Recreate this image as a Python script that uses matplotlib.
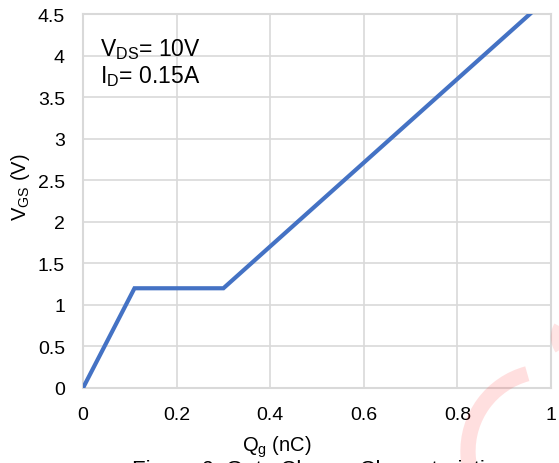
import matplotlib
matplotlib.use('Agg')
import matplotlib.pyplot as plt
from matplotlib.patches import Arc

plt.rcParams['font.family'] = ['Liberation Sans', 'DejaVu Sans']
plt.rcParams['mathtext.fontset'] = 'custom'
plt.rcParams['mathtext.rm'] = 'Liberation Sans'
plt.rcParams['mathtext.it'] = 'Liberation Sans'

# Gate charge data
qg = [0.0, 0.11, 0.30, 0.955]
vgs = [0.0, 1.2, 1.2, 4.5]
x_ticks = [0, 0.2, 0.4, 0.6, 0.8, 1]
x_labels = ['0', '0.2', '0.4', '0.6', '0.8', '1']
y_ticks = [0, 0.5, 1, 1.5, 2, 2.5, 3, 3.5, 4, 4.5]
y_labels = ['0', '0.5', '1', '1.5', '2', '2.5', '3', '3.5', '4', '4.5']

W, H = 559, 464
fig = plt.figure(figsize=(W / 100, H / 100), dpi=100)
ax = fig.add_axes([83 / W, 1 - 389 / H, (551 - 83) / W, (389 - 15) / H])

grid_c = '#d9d9d9'
ax.plot(qg, vgs, color='#4472C4', lw=3.0, solid_joinstyle='miter', zorder=3)
ax.set_xlim(0, 1)
ax.set_ylim(0, 4.5)
ax.set_xticks(x_ticks)
ax.set_xticklabels(x_labels)
ax.set_yticks(y_ticks)
ax.set_yticklabels(y_labels)
ax.grid(True, color=grid_c, lw=1.2)
ax.set_axisbelow(True)
for s in ax.spines.values():
    s.set_color(grid_c)
    s.set_linewidth(1.5)
ax.tick_params(length=0, labelsize=14, pad=13)
ax.tick_params(axis='y', pad=13)

ax.set_xlabel(r'Q$_\mathrm{g}$ (nC)', fontsize=14.5)
ax.xaxis.set_label_coords((277 - 83) / (551 - 83), -(447 - 389) / (389 - 15), transform=ax.transAxes)
ax.xaxis.label.set_va('center')
ax.set_ylabel(r'V$_\mathrm{GS}$ (V)', fontsize=14.5)
ax.yaxis.set_label_coords(-(83 - 21) / (551 - 83), (389 - 187) / (389 - 15), transform=ax.transAxes)
ax.yaxis.label.set_va('center')

ax.text(100 / W, 1 - 56 / H, r'V$_\mathrm{DS}$= 10V', transform=fig.transFigure,
        fontsize=16.5, va='baseline', ha='left')
ax.text(100 / W, 1 - 83 / H, r'I$_\mathrm{D}$= 0.15A', transform=fig.transFigure,
        fontsize=16.5, va='baseline', ha='left')

# caption, mostly cut off at the bottom as in the reference
fig.text(320 / W, 1 - 460 / H, 'Figure 6. Gate Charge Characteristics',
         fontsize=16, ha='center', va='top')

# faint watermark pieces
wm = Arc((548, H - 452), 160, 160, theta1=105, theta2=260, transform=None,
         color='#ff3b3b', alpha=0.16, lw=11)
fig.add_artist(wm)
wm2 = Arc((578, H - 338), 46, 46, theta1=150, theta2=215, transform=None,
          color='#ff3b3b', alpha=0.14, lw=6)
fig.add_artist(wm2)

fig.savefig('out.png', dpi=100)
